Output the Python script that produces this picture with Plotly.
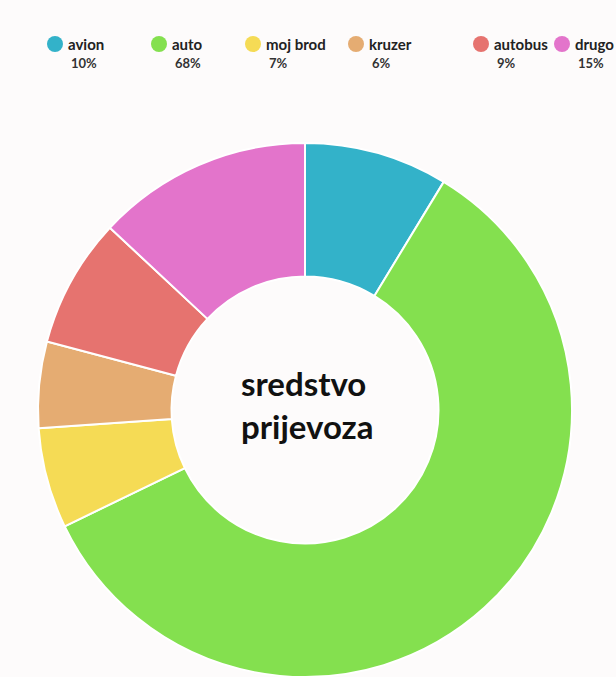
import plotly.graph_objects as go

labels = ["avion", "auto", "moj brod", "kruzer", "autobus", "drugo"]
values = [10, 68, 7, 6, 9, 15]
colors = ["#33B2C9", "#84E04F", "#F5DB55", "#E5AC72", "#E6736F", "#E374CB"]
center_title = "sredstvo<br>prijevoza"

W, H = 616, 677
# legend layout (pixel positions of each entry's marker)
legend_x = [55, 159, 253, 356, 481, 562]
legend_y = 44
FONT = "Lato, 'Open Sans', sans-serif"

fig = go.Figure()
fig.add_trace(go.Pie(
    labels=labels, values=values, hole=0.5, sort=False,
    direction="clockwise", rotation=0,
    marker=dict(colors=colors, line=dict(color="white", width=2)),
    textinfo="none", hoverinfo="label+value",
    domain=dict(x=[305/W - 267/W, 305/W + 267/W], y=[0, 2*267/H]),
    showlegend=False,
))

shapes = []
annotations = []
for lab, val, col, lx in zip(labels, values, colors, legend_x):
    r = 8
    shapes.append(dict(type="circle", xref="paper", yref="paper",
                       x0=(lx - r)/W, x1=(lx + r)/W,
                       y0=1 - (legend_y + r)/H, y1=1 - (legend_y - r)/H,
                       fillcolor=col, line=dict(width=0)))
    annotations.append(dict(text=f"<b>{lab}</b>", x=(lx + 11)/W, y=1 - legend_y/H,
                            xref="paper", yref="paper", xanchor="left", yanchor="middle",
                            showarrow=False, font=dict(family=FONT, size=15, color="#222")))
    annotations.append(dict(text=f"<b>{val}%</b>", x=(lx + 14)/W, y=1 - 63/H,
                            xref="paper", yref="paper", xanchor="left", yanchor="middle",
                            showarrow=False, font=dict(family=FONT, size=13, color="#333")))

annotations.append(dict(text=f"<b>{center_title}</b>", x=307/W, y=1 - 404/H,
                        xref="paper", yref="paper", xanchor="center", yanchor="middle",
                        showarrow=False, align="left",
                        font=dict(family=FONT, size=33, color="#111")))

fig.update_layout(
    width=W, height=H, margin=dict(l=0, r=0, t=0, b=0),
    paper_bgcolor="#FDFBFB", plot_bgcolor="#FDFBFB",
    shapes=shapes, annotations=annotations,
)
fig.write_html("out.html", config={"displayModeBar": False},
               post_script="document.body.style.margin='0';document.body.style.overflow='hidden';")
